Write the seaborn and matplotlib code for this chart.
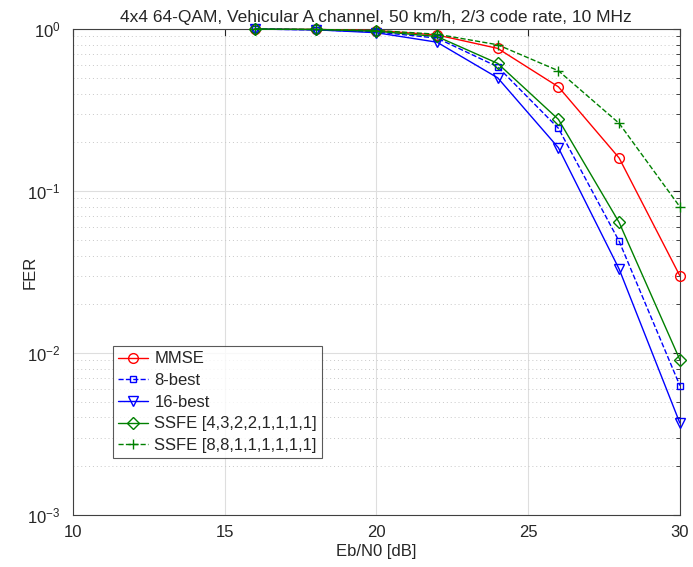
import matplotlib
matplotlib.use("Agg")
import numpy as np
import pandas as pd
import matplotlib.pyplot as plt
import seaborn as sns

sns.set_style("white")
plt.rcParams['font.family'] = ['Liberation Sans', 'DejaVu Sans']

ebn0 = [16, 18, 20, 22, 24, 26, 28, 30]

fer_mmse   = [1.0, 0.995, 0.98, 0.92, 0.76, 0.44, 0.16, 0.030]
fer_8best  = [1.0, 0.99, 0.96, 0.88, 0.585, 0.244, 0.049, 0.0063]
fer_16best = [1.0, 0.99, 0.95, 0.83, 0.50, 0.185, 0.033, 0.0037]
fer_ssfe1  = [1.0, 0.995, 0.97, 0.90, 0.614, 0.277, 0.064, 0.0091]
fer_ssfe2  = [1.0, 0.995, 0.98, 0.93, 0.80, 0.553, 0.262, 0.080]

labels = ["MMSE", "8-best", "16-best",
          "SSFE [4,3,2,2,1,1,1,1]", "SSFE [8,8,1,1,1,1,1,1]"]
series = [fer_mmse, fer_8best, fer_16best, fer_ssfe1, fer_ssfe2]
colors = ["#ff0000", "#0000ff", "#0000ff", "#008000", "#008000"]
markers = ["o", "s", "v", "D", "+"]
styles = ["-", "--", "-", "-", "--"]
msizes = [7, 5, 7, 6, 7]

fig = plt.figure(figsize=(6.93, 5.67), dpi=100)
ax = fig.add_axes([0.105, 0.0917, 0.876, 0.857])

for lab, y, c, m, ls, ms in zip(labels, series, colors, markers, styles, msizes):
    sns.lineplot(x=ebn0, y=y, ax=ax, color=c, marker=m,
                 markersize=ms, markerfacecolor="none", markeredgecolor=c,
                 markeredgewidth=1.0, linewidth=1.0, label=lab,
                 errorbar=None, clip_on=False, zorder=3)
    ax.lines[-1].set_linestyle(ls)

ax.set_yscale("log")
ax.set_xlim(10, 30)
ax.set_ylim(1e-3, 1)
ax.set_xticks([10, 15, 20, 25, 30])
ax.grid(True, which="major", color="#dedede", linewidth=0.8)
ax.grid(True, which="minor", axis="y", color="#c8c8c8", linestyle=(0, (1, 3)), linewidth=0.7)
ax.set_axisbelow(True)
ax.tick_params(which="both", direction="in", top=True, right=True, labelsize=12)
ax.tick_params(axis="x", pad=7)
ax.tick_params(axis="y", pad=9)
ax.tick_params(which="major", length=5)
ax.tick_params(which="minor", length=3)
for s in ax.spines.values():
    s.set_color("#404040")
    s.set_linewidth(0.8)

ax.set_xlabel("Eb/N0 [dB]", fontsize=12, labelpad=3)
ax.set_ylabel("FER", fontsize=12)
ax.yaxis.set_label_coords(-0.058, 0.5)
ax.set_title("4x4 64-QAM, Vehicular A channel, 50 km/h, 2/3 code rate, 10 MHz",
             fontsize=12.5, pad=5)

leg = ax.legend(loc="lower left", bbox_to_anchor=(0.066, 0.117), borderaxespad=0,
                fontsize=12, frameon=True, fancybox=False, handlelength=1.8,
                handletextpad=0.4, labelspacing=0.4, borderpad=0.3)
leg.get_frame().set_edgecolor("#303030")
leg.get_frame().set_linewidth(0.8)

fig.savefig("out.png", dpi=100)
